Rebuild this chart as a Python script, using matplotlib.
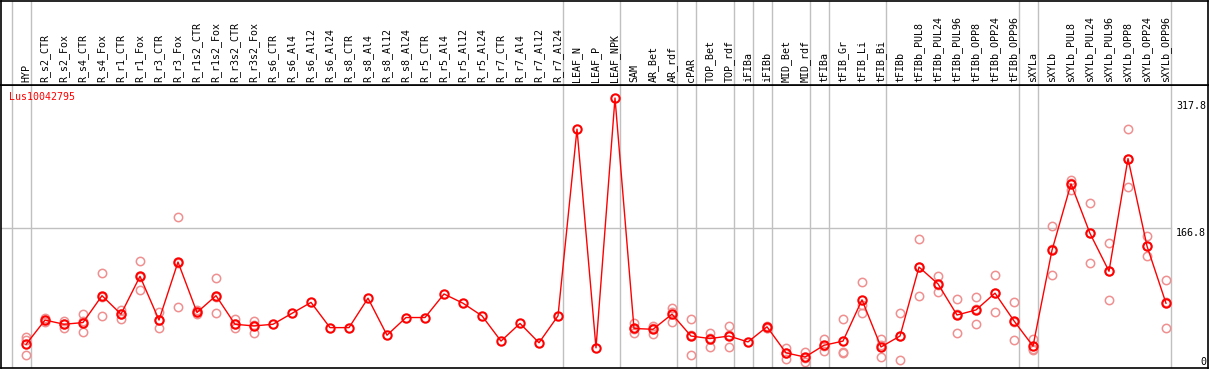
import numpy as np
import matplotlib
matplotlib.use("Agg")
import matplotlib.pyplot as plt
import matplotlib.transforms as mtransforms

###
### data
###

title = "Lus10042795"

samples = ["HYP", "R_s2_CTR", "R_s2_Fox", "R_s4_CTR", "R_s4_Fox", "R_r1_CTR",
           "R_r1_Fox", "R_r3_CTR", "R_r3_Fox", "R_r1s2_CTR", "R_r1s2_Fox",
           "R_r3s2_CTR", "R_r3s2_Fox", "R_s6_CTR", "R_s6_Al4", "R_s6_Al12",
           "R_s6_Al24", "R_s8_CTR", "R_s8_Al4", "R_s8_Al12", "R_s8_Al24",
           "R_r5_CTR", "R_r5_Al4", "R_r5_Al12", "R_r5_Al24", "R_r7_CTR",
           "R_r7_Al4", "R_r7_Al12", "R_r7_Al24", "LEAF_N", "LEAF_P", "LEAF_NPK",
           "SAM", "AR_Bet", "AR_rdf", "cPAR", "TOP_Bet", "TOP_rdf", "iFIBa",
           "iFIBb", "MID_Bet", "MID_rdf", "tFIBa", "tFIB_Gr", "tFIB_Li",
           "tFIB_Bi", "tFIBb", "tFIBb_PUL8", "tFIBb_PUL24", "tFIBb_PUL96",
           "tFIBb_OPP8", "tFIBb_OPP24", "tFIBb_OPP96", "sXYLa", "sXYLb",
           "sXYLb_PUL8", "sXYLb_PUL24", "sXYLb_PUL96", "sXYLb_OPP8",
           "sXYLb_OPP24", "sXYLb_OPP96"]

means = [28, 57, 52, 54, 86, 64, 109, 57, 126, 66, 86, 52, 50,
         52, 65, 78, 48, 48, 83, 39, 60, 60, 88, 77, 62, 32, 53, 30, 62,
         284, 24, 321,
         47, 46, 64, 38, 35, 38, 31, 49, 18, 13, 27, 32, 81, 25, 38,
         120, 100, 63, 69, 89, 56, 26, 140, 219, 160, 115, 249, 145, 77]

replicates = [[37, 33, 15], [60, 57, 55], [56, 52, 48], [64, 56, 43],
              [113, 85, 62], [69, 64, 58], [127, 108, 93], [67, 57, 48],
              [180, 125, 72], [69, 66, 64], [107, 85, 65], [58, 52, 48],
              [56, 51, 42],
              [], [], [], [], [], [], [], [], [], [], [], [], [], [], [], [],
              [], [], [],
              [54, 46, 42], [50, 48, 41], [71, 66, 55], [58, 39, 16],
              [42, 36, 25], [50, 39, 25], [], [50, 48, 48], [24, 18, 11],
              [19, 12, 7], [34, 26, 20], [58, 19, 18], [102, 75, 65],
              [35, 27, 13], [65, 38, 10], [153, 120, 86], [109, 99, 90],
              [82, 64, 42], [84, 70, 52], [110, 89, 67], [79, 55, 33],
              [34, 22, 21], [169, 141, 111], [224, 220, 212], [196, 160, 125],
              [149, 115, 81], [284, 249, 215], [157, 145, 133], [105, 78, 48]]

# group separators (drawn after these sample indices)
separators = [-1, 0, 28, 31, 34, 35, 37, 38, 39, 41, 42, 45, 52, 53, 60]

y_ticks = [0, 166.8, 317.8]

###
### plot
###

W, H = 1209, 370
fig = plt.figure(figsize=(W / 100, H / 100), dpi=100)

px_per_col = 19.0
x0_px = 26.0
left_px, right_px = 1, 1208
xlim = ((left_px - x0_px) / px_per_col, (right_px - x0_px) / px_per_col)

plot_top, plot_bot, head_top = 85, 368, 1
px_per_unit = (plot_bot - 227.7) / 166.8
ymax = (plot_bot - plot_top) / px_per_unit

ax = fig.add_axes([left_px / W, (H - plot_bot) / H, (right_px - left_px) / W,
                   (plot_bot - plot_top) / H])
hd = fig.add_axes([left_px / W, (H - plot_top) / H, (right_px - left_px) / W,
                   (plot_top - head_top) / H])

grey = "#c0c0c0"
font = {"family": "DejaVu Sans Mono", "size": 7.2}

for a in (ax, hd):
    a.set_xlim(*xlim)
    a.set_xticks([])
    a.set_yticks([])
    for s in a.spines.values():
        s.set_color("black")
        s.set_linewidth(1.2)
    for sep in separators:
        a.axvline(sep + 0.25, color=grey, lw=1, zorder=0)

ax.set_ylim(0, ymax)
hd.set_ylim(0, 1)

# header labels
for i, name in enumerate(samples):
    hd.text(i, 0.03, name, rotation=90, ha="center", va="bottom", **font)

# horizontal guide
ax.plot([xlim[0], separators[-1] + 0.25], [y_ticks[1], y_ticks[1]],
        color=grey, lw=1, zorder=0)

# replicates
x = np.arange(len(samples))
for i, reps in enumerate(replicates):
    if reps:
        ax.plot([i] * len(reps), reps, "o", ms=6, mfc="none", mec="#ef8f8f",
                mew=1.1, zorder=2)

# means
ax.plot(x, means, "-", color="red", lw=1, zorder=3)
ax.plot(x, means, "o", ms=6, mfc="none", mec="red", mew=1.5, zorder=4)

# value labels on the right
tr = mtransforms.blended_transform_factory(ax.transAxes, ax.transData)
for v in y_ticks:
    lbl = "0" if v == 0 else "%.1f" % v
    ax.text(0.9985, v + (1.5 if v == 0 else 0), lbl, transform=tr,
            ha="right", va="bottom" if v == 0 else "top", **font)

ax.text(8 / (right_px - left_px), 0.975, title, transform=ax.transAxes,
        color="red", ha="left", va="top", **font)

fig.savefig("out.png", dpi=100)
